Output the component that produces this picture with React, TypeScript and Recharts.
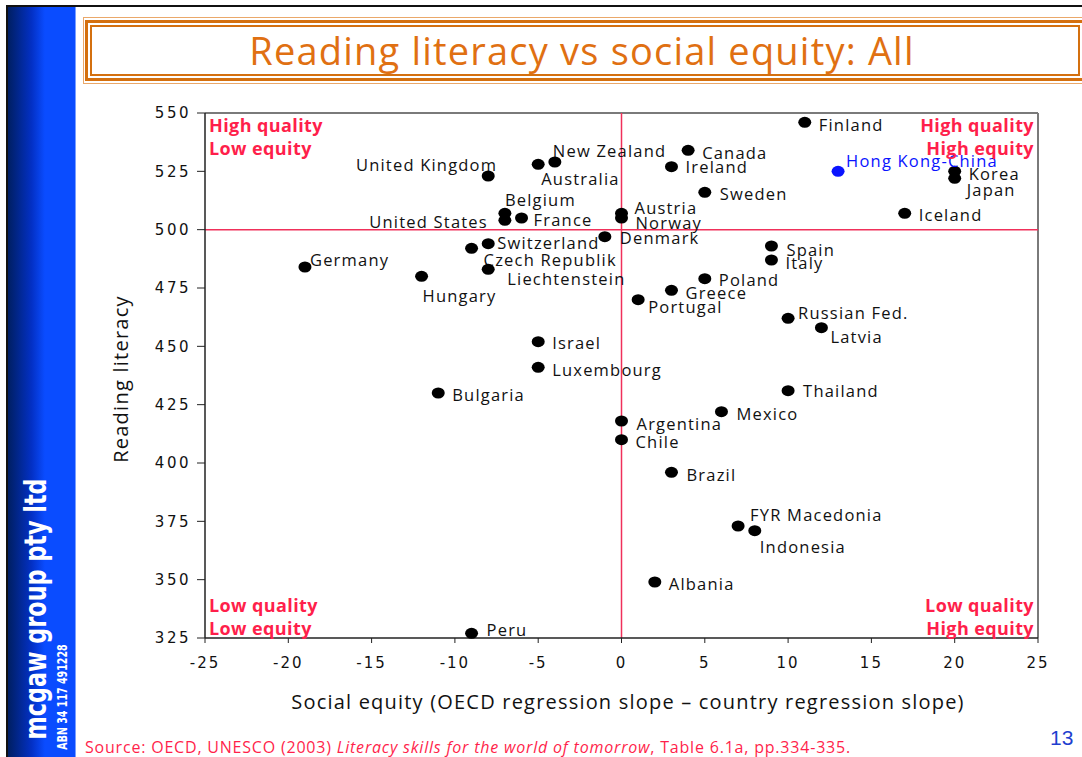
import React from 'react'
import { ReferenceLine, Scatter, ScatterChart, XAxis, YAxis } from 'recharts'

// PISA reading literacy vs social equity, one dot per country.
const countries = [
  'Finland', 'New Zealand', 'Australia', 'United Kingdom', 'Canada', 'Ireland',
  'Hong Kong-China', 'Korea', 'Japan', 'Sweden', 'Iceland', 'Belgium',
  'United States', 'France', 'Austria', 'Norway', 'Denmark', 'Switzerland',
  'Czech Republik', 'Germany', 'Liechtenstein', 'Hungary', 'Spain', 'Italy',
  'Poland', 'Greece', 'Portugal', 'Russian Fed.', 'Latvia', 'Israel',
  'Luxembourg', 'Bulgaria', 'Thailand', 'Mexico', 'Argentina', 'Chile',
  'Brazil', 'FYR Macedonia', 'Indonesia', 'Albania', 'Peru',
]
const equity = [
  11, -4, -5, -8, 4, 3,
  13, 20, 20, 5, 17, -7,
  -7, -6, 0, 0, -1, -8,
  -9, -19, -8, -12, 9, 9,
  5, 3, 1, 10, 12, -5,
  -5, -11, 10, 6, 0, 0,
  3, 7, 8, 2, -9,
]
const literacy = [
  546, 529, 528, 523, 534, 527,
  525, 525, 522, 516, 507, 507,
  504, 505, 507, 505, 497, 494,
  492, 484, 483, 480, 493, 487,
  479, 474, 470, 462, 458, 452,
  441, 430, 431, 422, 418, 410,
  396, 373, 371, 349, 327,
]
const highlighted = ['Hong Kong-China']

const xTicks = [-25, -20, -15, -10, -5, 0, 5, 10, 15, 20, 25]
const yTicks = [325, 350, 375, 400, 425, 450, 475, 500, 525, 550]

// where each country's name sits relative to its dot: [dx, dy, anchor]
const placement: Record<string, [number, number, 'start' | 'end']> = {
  'Finland': [14, 2, 'start'],
  'New Zealand': [-2, -12, 'start'],
  'Australia': [3, 14, 'start'],
  'United Kingdom': [9, -12, 'end'],
  'Canada': [14, 2, 'start'],
  'Ireland': [14, 0, 'start'],
  'Hong Kong-China': [8, -11, 'start'],
  'Korea': [14, 2, 'start'],
  'Japan': [12, 11, 'start'],
  'Sweden': [15, 1, 'start'],
  'Iceland': [14, 1, 'start'],
  'Belgium': [0, -14, 'start'],
  'United States': [-17, 1, 'end'],
  'France': [12, 1, 'start'],
  'Austria': [13, -6, 'start'],
  'Norway': [14, 4, 'start'],
  'Denmark': [15, 1, 'start'],
  'Switzerland': [9, -1, 'start'],
  'Czech Republik': [12, 11, 'start'],
  'Germany': [5, -8, 'start'],
  'Liechtenstein': [19, 9, 'start'],
  'Hungary': [1, 19, 'start'],
  'Spain': [15, 3, 'start'],
  'Italy': [14, 2, 'start'],
  'Poland': [14, 1, 'start'],
  'Greece': [14, 2, 'start'],
  'Portugal': [10, 7, 'start'],
  'Russian Fed.': [10, -6, 'start'],
  'Latvia': [9, 9, 'start'],
  'Israel': [14, 1, 'start'],
  'Luxembourg': [14, 2, 'start'],
  'Bulgaria': [14, 1, 'start'],
  'Thailand': [15, 0, 'start'],
  'Mexico': [15, 2, 'start'],
  'Argentina': [15, 2, 'start'],
  'Chile': [14, 2, 'start'],
  'Brazil': [15, 2, 'start'],
  'FYR Macedonia': [12, -12, 'start'],
  'Indonesia': [5, 16, 'start'],
  'Albania': [14, 1, 'start'],
  'Peru': [15, -4, 'start'],
}

const comic = "'Comic Sans MS', 'Open Sans', sans-serif"
const verdana = "Verdana, 'DejaVu Sans', sans-serif"
const narrow = "'Liberation Sans Narrow', 'DejaVu Sans', sans-serif"
const red = '#ff1f4b'
const orange = '#d4700f'

const rows = countries.map((name, i) => ({ name, equity: equity[i], literacy: literacy[i] }))
const mainRows = rows.filter((r) => !highlighted.includes(r.name))
const hiRows = rows.filter((r) => highlighted.includes(r.name))

function CountryDot(props: any) {
  const { cx, cy, payload, fill } = props
  const [dx, dy, anchor] = placement[payload.name] ?? [12, 0, 'start']
  return (
    <g>
      <ellipse cx={cx} cy={cy} rx={6.5} ry={5.5} fill={fill} />
      <text
        x={cx + dx}
        y={cy + dy}
        textAnchor={anchor}
        dominantBaseline="central"
        fontFamily={comic}
        fontSize={16.5}
        letterSpacing={1.2}
        fill={fill === '#000000' ? '#111' : fill}
      >
        {payload.name}
      </text>
    </g>
  )
}

const abs = (s: React.CSSProperties): React.CSSProperties => ({ position: 'absolute', ...s })

function Corner({ lines, style }: { lines: string[]; style: React.CSSProperties }) {
  return (
    <div
      style={abs({
        fontFamily: comic,
        fontWeight: 700,
        fontSize: 18,
        letterSpacing: 0.4,
        lineHeight: '23px',
        color: red,
        whiteSpace: 'nowrap',
        ...style,
      })}
    >
      {lines.map((l) => (
        <div key={l}>{l}</div>
      ))}
    </div>
  )
}

export default function App() {
  return (
    <div style={{ position: 'relative', width: 1082, height: 757, background: '#fff', overflow: 'hidden' }}>
      <style>{'body{margin:0}'}</style>

      {/* page frame + blue side band */}
      <div style={abs({ left: 6, top: 5, width: 1076, height: 2, background: '#111' })} />
      <div style={abs({ left: 6, top: 5, width: 2, height: 752, background: '#111' })} />
      <div
        style={abs({
          left: 8,
          top: 7,
          width: 67,
          height: 750,
          background: 'linear-gradient(to right, #001f62 0%, #0330c4 35%, #0a4cff 55%, #0a4cff 100%)',
          borderRight: '1px solid #7aa0ff',
        })}
      />
      <div
        style={abs({
          left: 35,
          top: 609,
          transform: 'translate(-50%, -50%) rotate(-90deg) scaleX(0.72)',
          color: '#fff',
          fontFamily: narrow,
          fontWeight: 700,
          fontSize: 31,
          whiteSpace: 'nowrap',
          lineHeight: 1,
        })}
      >
        mcgaw group pty ltd
      </div>
      <div
        style={abs({
          left: 62,
          top: 697,
          transform: 'translate(-50%, -50%) rotate(-90deg) scaleX(0.68)',
          color: '#fff',
          fontFamily: narrow,
          fontWeight: 700,
          fontSize: 14,
          whiteSpace: 'nowrap',
          lineHeight: 1,
        })}
      >
        ABN 34 117 491228
      </div>

      {/* title box */}
      <div style={abs({ left: 83, top: 17, width: 1000, height: 67, border: '1px solid #eaa86a', boxSizing: 'border-box' })} />
      <div style={abs({ left: 85, top: 20, width: 1000, height: 61, border: `3px solid ${orange}`, boxSizing: 'border-box' })} />
      <div style={abs({ left: 90, top: 25, width: 990, height: 51, border: `2px solid ${orange}`, boxSizing: 'border-box' })} />
      <div
        style={abs({
          left: 582,
          top: 50,
          transform: 'translate(-50%, -50%)',
          fontFamily: comic,
          fontSize: 38,
          color: '#e07012',
          whiteSpace: 'nowrap',
          letterSpacing: 1.2,
        })}
      >
        Reading literacy vs social equity: All
      </div>

      <div style={abs({ left: 0, top: 0 })}>
        <ScatterChart width={1082} height={757} margin={{ top: 113, right: 44, bottom: 39, left: 105 }}>
          <XAxis
            type="number"
            dataKey="equity"
            domain={[-25, 25]}
            ticks={xTicks}
            height={80}
            tickSize={5}
            tickMargin={14}
            axisLine={{ stroke: '#222', strokeWidth: 1.5 }}
            tickLine={{ stroke: '#222' }}
            tick={{ fill: '#111', fontSize: 15, fontFamily: verdana, letterSpacing: 2 }}
          />
          <YAxis
            type="number"
            dataKey="literacy"
            domain={[325, 550]}
            ticks={yTicks}
            width={100}
            tickSize={8}
            tickMargin={6}
            axisLine={{ stroke: '#222', strokeWidth: 1.5 }}
            tickLine={{ stroke: '#222' }}
            tick={{ fill: '#111', fontSize: 15, fontFamily: verdana, letterSpacing: 2.5 }}
          />
          <ReferenceLine y={550} stroke="#7a7a7a" strokeWidth={2} />
          <ReferenceLine x={25} stroke="#7a7a7a" strokeWidth={2} />
          <ReferenceLine x={0} stroke="#f0305a" strokeWidth={1.5} />
          <ReferenceLine y={500} stroke="#f0305a" strokeWidth={1.5} />
          <Scatter data={mainRows} fill="#000000" shape={CountryDot} isAnimationActive={false} />
          <Scatter data={hiRows} fill="#0a14ff" shape={CountryDot} isAnimationActive={false} />
        </ScatterChart>
      </div>

      {/* quadrant captions */}
      <Corner lines={['High quality', 'Low equity']} style={{ left: 209, top: 114 }} />
      <Corner lines={['High quality', 'High equity']} style={{ right: 1082 - 1034, top: 114, textAlign: 'right' }} />
      <Corner lines={['Low quality', 'Low equity']} style={{ left: 209, top: 594 }} />
      <Corner lines={['Low quality', 'High equity']} style={{ right: 1082 - 1034, top: 594, textAlign: 'right' }} />

      {/* axis titles */}
      <div
        style={abs({
          left: 120,
          top: 379,
          transform: 'translate(-50%, -50%) rotate(-90deg)',
          fontFamily: comic,
          fontSize: 20,
          color: '#111',
          whiteSpace: 'nowrap',
          letterSpacing: 1.25,
        })}
      >
        Reading literacy
      </div>
      <div
        style={abs({
          left: 628,
          top: 701,
          transform: 'translate(-50%, -50%)',
          fontFamily: comic,
          fontSize: 20,
          color: '#111',
          whiteSpace: 'nowrap',
          letterSpacing: 1.2,
        })}
      >
        Social equity (OECD regression slope – country regression slope)
      </div>

      {/* footer */}
      <div style={abs({ left: 85, top: 736, fontFamily: comic, fontSize: 16, letterSpacing: 0.8, color: red, whiteSpace: 'nowrap' })}>
        Source: OECD, UNESCO (2003) <i>Literacy skills for the world of tomorrow</i>, Table 6.1a, pp.334-335.
      </div>
      <div style={abs({ left: 1050, top: 726, fontFamily: "'Liberation Sans', Arial, sans-serif", fontSize: 21, color: '#1f3fcf' })}>
        13
      </div>
    </div>
  )
}
